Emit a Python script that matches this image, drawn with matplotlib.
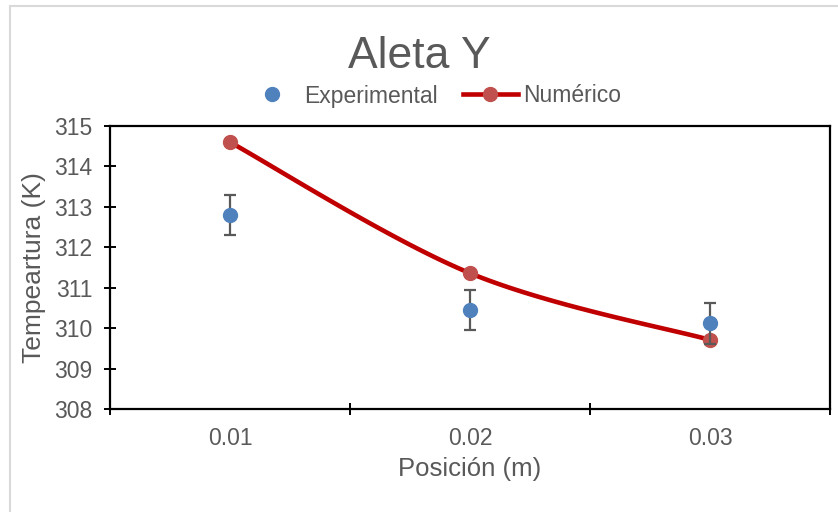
import numpy as np
import matplotlib.pyplot as plt
from matplotlib.patches import Rectangle
from matplotlib.lines import Line2D

plt.rcParams['font.family'] = ['Liberation Sans', 'DejaVu Sans']

# datos
posicion = [0.01, 0.02, 0.03]
temp_exp = [312.80, 310.45, 310.12]
err_exp = [0.5, 0.5, 0.5]
temp_num = [314.60, 311.36, 309.71]

x_ticks = [0.005, 0.015, 0.025, 0.035]
x_labels = ["0.01", "0.02", "0.03"]
y_ticks = [308, 309, 310, 311, 312, 313, 314, 315]

GRIS = "#595959"


def suavizar(x, y, n=40):
    # linea suavizada tipo Excel (bezier con puntos de control de Catmull-Rom)
    px = [x[0]] + list(x) + [x[-1]]
    py = [y[0]] + list(y) + [y[-1]]
    xs, ys = [], []
    t = np.linspace(0, 1, n)
    for i in range(1, len(px) - 2):
        p0 = np.array([px[i], py[i]])
        p3 = np.array([px[i + 1], py[i + 1]])
        c1 = p0 + (p3 - np.array([px[i - 1], py[i - 1]])) / 6
        c2 = p3 - (np.array([px[i + 2], py[i + 2]]) - p0) / 6
        for tt in t:
            p = ((1 - tt) ** 3) * p0 + 3 * ((1 - tt) ** 2) * tt * c1 \
                + 3 * (1 - tt) * tt ** 2 * c2 + tt ** 3 * p3
            xs.append(p[0])
            ys.append(p[1])
    return xs, ys


fig = plt.figure(figsize=(8.38, 5.12), dpi=100)
ax = fig.add_axes([110 / 838, 1 - 409 / 512, 720 / 838, 283 / 512])

# borde del area del grafico
fig.patches.append(Rectangle((9.5 / 838, -0.1), 1.2, 1.1 - 5.5 / 512,
                             transform=fig.transFigure, fill=False,
                             edgecolor="#d9d9d9", linewidth=1.5))

sx, sy = suavizar(posicion, temp_num)
ax.plot(sx, sy, color="#C00000", linewidth=3.3, zorder=2, solid_capstyle="round")
ax.plot(posicion, temp_num, "o", color="#C0504D", markersize=10, zorder=3)

ax.errorbar(posicion, temp_exp, yerr=err_exp, fmt="o", color="#4F81BD",
            markersize=10, ecolor=GRIS, elinewidth=1.6, capsize=4.3,
            capthick=1.6, zorder=4)

ax.set_xlim(0.005, 0.035)
ax.set_ylim(308, 315)
ax.set_xticks(x_ticks)
ax.set_xticklabels([])
ax.set_xticks(posicion, minor=True)
ax.set_xticklabels(x_labels, minor=True)
ax.set_yticks(y_ticks)

for s in ax.spines.values():
    s.set_color("black")
    s.set_linewidth(1.6)

ax.tick_params(axis="both", which="major", direction="inout", length=9,
               width=1.4, color="black", labelcolor=GRIS, labelsize=16.5)
ax.tick_params(axis="x", which="minor", length=0, labelcolor=GRIS,
               labelsize=16.5, pad=13)
ax.tick_params(axis="y", pad=8)

ax.set_xlabel("Posición (m)", fontsize=18.5, color=GRIS, labelpad=5)
ax.set_ylabel("Tempeartura (K)", fontsize=19, color=GRIS, labelpad=6)

fig.text(0.5, 1 - 57 / 512, "Aleta Y", ha="center", va="center",
         fontsize=32, color=GRIS)

h_exp = Line2D([], [], marker="o", linestyle="none", color="#4F81BD",
               markersize=10)
h_num = Line2D([], [], marker="o", color="#C00000", markerfacecolor="#C0504D",
               markeredgecolor="#C0504D", linewidth=3.3, markersize=10)
fig.legend([h_exp, h_num], ["Experimental", "Numérico"], loc="center",
           bbox_to_anchor=(433 / 838, 1 - 96 / 512), ncol=2, frameon=False,
           fontsize=16.5, labelcolor=GRIS, handlelength=2.36, handletextpad=0.25,
           columnspacing=1.1)

fig.savefig("out.png", dpi=100)
